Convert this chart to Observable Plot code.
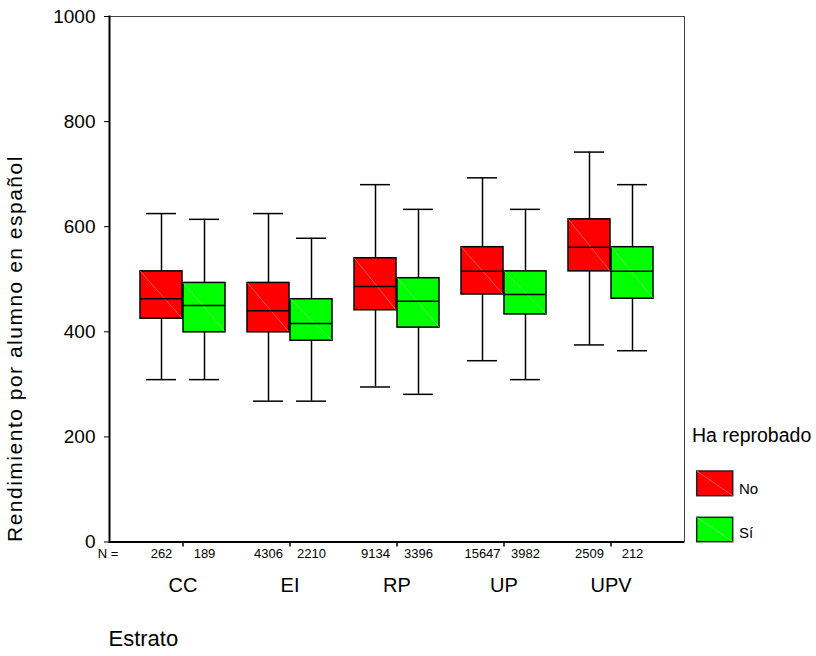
<!DOCTYPE html>
<html>
<head>
<meta charset="utf-8">
<script src="https://cdn.jsdelivr.net/npm/d3@7"></script>
<script src="https://cdn.jsdelivr.net/npm/@observablehq/plot@0.6"></script>
<style>
  body { margin: 0; background: #fff; }
  #wrap { position: relative; width: 816px; height: 656px; font-family: "Liberation Sans", Arial, sans-serif; }
  #legend { position: absolute; left: 0; top: 0; pointer-events: none; }
</style>
</head>
<body>
<div id="wrap"></div>
<script>
const estratos = ["CC", "EI", "RP", "UP", "UPV"];
const grupos = ["No", "Sí"];
const colores = ["#ff0000", "#00ff00"];

// Ha reprobado = No
const nNo   = [262, 4306, 9134, 15647, 2509];
const minNo = [309, 268, 295, 345, 375];
const q1No  = [425, 399, 441, 471, 515];
const medNo = [463, 440, 486, 515, 561];
const q3No  = [515, 493, 540, 561, 614];
const maxNo = [625, 625, 680, 693, 742];

// Ha reprobado = Sí
const nSi   = [189, 2210, 3396, 3982, 212];
const minSi = [309, 268, 281, 309, 364];
const q1Si  = [399, 383, 408, 433, 463];
const medSi = [450, 416, 458, 471, 515];
const q3Si  = [493, 462, 502, 515, 561];
const maxSi = [614, 578, 633, 633, 680];

const yTicks = [0, 200, 400, 600, 800, 1000];

const build = (n, mn, q1, md, q3, mx, g) => estratos.map((e, i) => ({
  estrato: e, grupo: g, n: n[i], min: mn[i], q1: q1[i], med: md[i], q3: q3[i], max: mx[i]
}));
const rowsNo = build(nNo, minNo, q1No, medNo, q3No, maxNo, "No");
const rowsSi = build(nSi, minSi, q1Si, medSi, q3Si, maxSi, "Sí");

const half = 43;   // half of band width
const cap = 15.5;  // half width of whisker caps

function boxMarks(rows, side, fill) {
  const off = side * half / 2;
  const boxIn = side < 0 ? {insetLeft: 0, insetRight: half} : {insetLeft: half, insetRight: 0};
  const capIn = side < 0
    ? {insetLeft: half / 2 - cap, insetRight: half + half / 2 - cap}
    : {insetLeft: half + half / 2 - cap, insetRight: half / 2 - cap};
  return [
    Plot.ruleX(rows, {x: "estrato", y1: "min", y2: "q1", dx: off, stroke: "black", strokeWidth: 1.5}),
    Plot.ruleX(rows, {x: "estrato", y1: "q3", y2: "max", dx: off, stroke: "black", strokeWidth: 1.5}),
    Plot.tickY(rows, {x: "estrato", y: "min", stroke: "black", strokeWidth: 1.5, ...capIn}),
    Plot.tickY(rows, {x: "estrato", y: "max", stroke: "black", strokeWidth: 1.5, ...capIn}),
    Plot.barY(rows, {x: "estrato", y1: "q1", y2: "q3", fill, stroke: "black", strokeWidth: 1.5, ...boxIn}),
    Plot.tickY(rows, {x: "estrato", y: "med", stroke: "black", strokeWidth: 1.5, ...boxIn}),
    Plot.text(rows, {x: "estrato", text: d => String(d.n), frameAnchor: "bottom", dy: 15.5, dx: off, fontSize: 13, fill: "black"})
  ];
}

const chart = Plot.plot({
  width: 816,
  height: 656,
  marginLeft: 109,
  marginRight: 132,
  marginTop: 16,
  marginBottom: 114.5,
  style: {fontFamily: "'Liberation Sans', Arial, sans-serif", color: "black", background: "white"},
  x: {domain: estratos, paddingInner: 0.2015, paddingOuter: 0.27, align: 0.5, label: null},
  y: {domain: [0, 1000], label: null},
  marks: [
    Plot.frame({stroke: "#444", strokeWidth: 1}),
    ...boxMarks(rowsNo, -1, colores[0]),
    ...boxMarks(rowsSi, 1, colores[1]),
    Plot.ruleY([0], {stroke: "black", strokeWidth: 2}),
    Plot.frame({anchor: "left", stroke: "black", strokeWidth: 2}),
    Plot.axisY({ticks: yTicks, tickSize: 5, tickPadding: 9, fontSize: 19, label: null, tickFormat: d => String(d)}),
    Plot.axisX({tickSize: 5, tickPadding: 30.5, fontSize: 20, label: null, strokeWidth: 1.5}),
    Plot.text(["N ="], {text: d => d, frameAnchor: "bottom-left", dx: -1.5, dy: 15.5, fontSize: 13, textAnchor: "middle", fill: "black"}),
    Plot.text(["Rendimiento por alumno en español"], {text: d => d, frameAnchor: "bottom-left", rotate: -90, textAnchor: "start", dx: -88, fontSize: 21, fill: "black"}),
    Plot.text(["Estrato"], {text: d => d, frameAnchor: "bottom-left", textAnchor: "start", dx: -1, dy: 103.5, fontSize: 22, fill: "black"})
  ]
});

// faint diagonal inside each box (as in the original rendering)
d3.select(chart).selectAll('g[aria-label="bar"] rect').each(function() {
  const r = d3.select(this);
  const x = +r.attr("x"), y = +r.attr("y"), w = +r.attr("width"), h = +r.attr("height");
  d3.select(this.parentNode).append("line")
    .attr("x1", x).attr("y1", y).attr("x2", x + w).attr("y2", y + h)
    .attr("stroke", "rgba(255,255,255,0.45)").attr("stroke-width", 0.8);
});
// y label letter spacing
d3.select(chart).selectAll("text").filter(function() { return this.textContent === "Rendimiento por alumno en español"; })
  .style("letter-spacing", "1.5px");

const wrap = document.getElementById("wrap");
wrap.appendChild(chart);

// Legend
const ns = "http://www.w3.org/2000/svg";
const leg = d3.select(wrap).append("svg").attr("id", "legend").attr("width", 816).attr("height", 656)
  .style("font-family", "'Liberation Sans', Arial, sans-serif");
leg.append("text").attr("x", 692).attr("y", 442.3).attr("font-size", 19.5).text("Ha reprobado");
const sw = [{y: 471, h: 24.7, tY: 494}, {y: 517.3, h: 24.4, tY: 538}];
grupos.forEach((g, i) => {
  leg.append("rect").attr("x", 696.7).attr("y", sw[i].y).attr("width", 36).attr("height", sw[i].h)
    .attr("fill", colores[i]).attr("stroke", "#222").attr("stroke-width", 1.5);
  leg.append("line").attr("x1", 696.7).attr("y1", sw[i].y).attr("x2", 732.7).attr("y2", sw[i].y + sw[i].h)
    .attr("stroke", "rgba(255,255,255,0.45)").attr("stroke-width", 0.8);
  leg.append("text").attr("x", 739).attr("y", sw[i].tY).attr("font-size", 15).text(g);
});
</script>
</body>
</html>
